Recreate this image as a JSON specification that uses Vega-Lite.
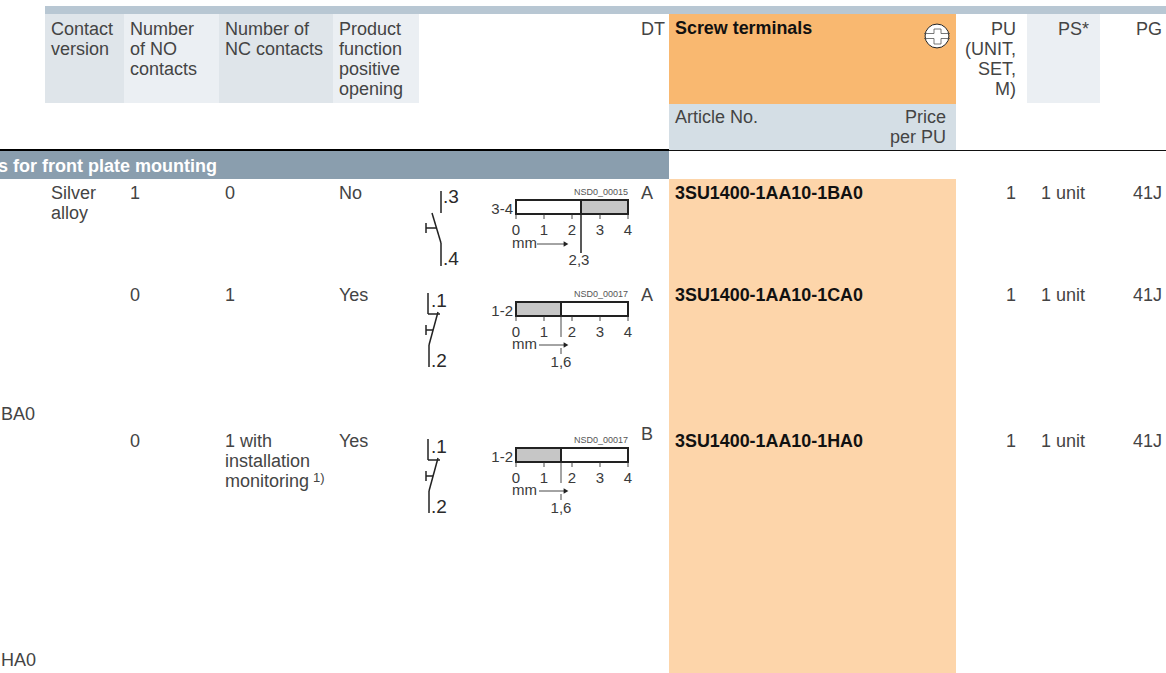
{"$schema":"https://vega.github.io/schema/vega-lite/v6.json","width":1166,"height":673,"padding":0,"autosize":{"type":"none"},"background":"#ffffff","config":{"view":{"stroke":null}},
"datasets":{
"rects":[
{"x":45,"x2":1166,"y":6,"y2":14,"kind":"band"},
{"x":45,"x2":124,"y":14,"y2":103,"kind":"colA"},
{"x":124,"x2":219,"y":14,"y2":103,"kind":"colB"},
{"x":219,"x2":333,"y":14,"y2":103,"kind":"colA"},
{"x":333,"x2":419,"y":14,"y2":103,"kind":"colB"},
{"x":669,"x2":956,"y":14,"y2":104,"kind":"orange"},
{"x":669,"x2":956,"y":104,"y2":150,"kind":"blue"},
{"x":1027,"x2":1100,"y":14,"y2":103,"kind":"colB"},
{"x":0,"x2":669,"y":151,"y2":179,"kind":"dark"},
{"x":669,"x2":956,"y":179,"y2":673,"kind":"pale"},
{"x":516,"x2":581,"y":200,"y2":214,"kind":"white"},
{"x":581,"x2":628,"y":200,"y2":214,"kind":"grey"},
{"x":516,"x2":561,"y":302,"y2":316,"kind":"grey"},
{"x":561,"x2":628,"y":302,"y2":316,"kind":"white"},
{"x":516,"x2":561,"y":448,"y2":462,"kind":"grey"},
{"x":561,"x2":628,"y":448,"y2":462,"kind":"white"}
],
"circle":[{"x":937,"y":36}],
"lines":[
{"x":0,"x2":669,"y":150,"y2":150,"kind":"heavy"},
{"x":669,"x2":1166,"y":150.5,"y2":150.5,"kind":"thin"},
{"x":924,"x2":934,"y":33.5,"y2":33.5,"kind":"icon"},
{"x":941,"x2":950,"y":33.5,"y2":33.5,"kind":"icon"},
{"x":924,"x2":934,"y":38.5,"y2":38.5,"kind":"icon"},
{"x":941,"x2":950,"y":38.5,"y2":38.5,"kind":"icon"},
{"x":934,"x2":934,"y":29,"y2":33.5,"kind":"icon"},
{"x":941,"x2":941,"y":29,"y2":33.5,"kind":"icon"},
{"x":934,"x2":941,"y":29,"y2":29,"kind":"icon"},
{"x":934,"x2":934,"y":38.5,"y2":44,"kind":"icon"},
{"x":941,"x2":941,"y":38.5,"y2":44,"kind":"icon"},
{"x":934,"x2":941,"y":44,"y2":44,"kind":"icon"},

{"x":441,"x2":441,"y":191,"y2":213,"kind":"sym"},
{"x":432,"x2":441,"y":213,"y2":243,"kind":"sym"},
{"x":441,"x2":441,"y":243,"y2":266,"kind":"sym"},
{"x":426,"x2":437,"y":228,"y2":228,"kind":"sym"},
{"x":426,"x2":426,"y":223,"y2":233,"kind":"sym"},

{"x":428,"x2":428,"y":293,"y2":314,"kind":"sym"},
{"x":428,"x2":440,"y":314,"y2":314,"kind":"sym"},
{"x":438,"x2":429,"y":312,"y2":345,"kind":"sym"},
{"x":429,"x2":429,"y":345,"y2":367,"kind":"sym"},
{"x":426,"x2":433,"y":330,"y2":330,"kind":"sym"},
{"x":426,"x2":426,"y":325,"y2":335,"kind":"sym"},

{"x":428,"x2":428,"y":439,"y2":460,"kind":"sym"},
{"x":428,"x2":440,"y":460,"y2":460,"kind":"sym"},
{"x":438,"x2":429,"y":458,"y2":491,"kind":"sym"},
{"x":429,"x2":429,"y":491,"y2":513,"kind":"sym"},
{"x":426,"x2":433,"y":476,"y2":476,"kind":"sym"},
{"x":426,"x2":426,"y":471,"y2":481,"kind":"sym"},

{"x":516,"x2":628,"y":200,"y2":200,"kind":"bar"},
{"x":516,"x2":628,"y":214,"y2":214,"kind":"bar"},
{"x":516,"x2":516,"y":199,"y2":215,"kind":"bar"},
{"x":628,"x2":628,"y":199,"y2":215,"kind":"bar"},
{"x":581,"x2":581,"y":199,"y2":214,"kind":"bar"},
{"x":581,"x2":581,"y":214,"y2":253,"kind":"sym"},
{"x":516,"x2":516,"y":214,"y2":219,"kind":"tick"},
{"x":544,"x2":544,"y":214,"y2":219,"kind":"tick"},
{"x":572,"x2":572,"y":214,"y2":219,"kind":"tick"},
{"x":600,"x2":600,"y":214,"y2":219,"kind":"tick"},
{"x":628,"x2":628,"y":214,"y2":219,"kind":"tick"},
{"x":537,"x2":566,"y":244,"y2":244,"kind":"tick"},

{"x":516,"x2":628,"y":302,"y2":302,"kind":"bar"},
{"x":516,"x2":628,"y":316,"y2":316,"kind":"bar"},
{"x":516,"x2":516,"y":301,"y2":317,"kind":"bar"},
{"x":628,"x2":628,"y":301,"y2":317,"kind":"bar"},
{"x":561,"x2":561,"y":301,"y2":316,"kind":"bar"},
{"x":561,"x2":561,"y":316,"y2":337,"kind":"tick"},
{"x":561,"x2":561,"y":348,"y2":354,"kind":"tick"},
{"x":516,"x2":516,"y":316,"y2":321,"kind":"tick"},
{"x":544,"x2":544,"y":316,"y2":321,"kind":"tick"},
{"x":572,"x2":572,"y":316,"y2":321,"kind":"tick"},
{"x":600,"x2":600,"y":316,"y2":321,"kind":"tick"},
{"x":628,"x2":628,"y":316,"y2":321,"kind":"tick"},
{"x":539,"x2":566,"y":345,"y2":345,"kind":"tick"},

{"x":516,"x2":628,"y":448,"y2":448,"kind":"bar"},
{"x":516,"x2":628,"y":462,"y2":462,"kind":"bar"},
{"x":516,"x2":516,"y":447,"y2":463,"kind":"bar"},
{"x":628,"x2":628,"y":447,"y2":463,"kind":"bar"},
{"x":561,"x2":561,"y":447,"y2":462,"kind":"bar"},
{"x":561,"x2":561,"y":462,"y2":483,"kind":"tick"},
{"x":561,"x2":561,"y":494,"y2":500,"kind":"tick"},
{"x":516,"x2":516,"y":462,"y2":467,"kind":"tick"},
{"x":544,"x2":544,"y":462,"y2":467,"kind":"tick"},
{"x":572,"x2":572,"y":462,"y2":467,"kind":"tick"},
{"x":600,"x2":600,"y":462,"y2":467,"kind":"tick"},
{"x":628,"x2":628,"y":462,"y2":467,"kind":"tick"},
{"x":539,"x2":566,"y":491,"y2":491,"kind":"tick"}
],
"heads":[{"x":566,"y":244},{"x":566,"y":345},{"x":566,"y":491}],
"bodyLeft":[
{"x":51,"y":35,"t":"Contact"},{"x":51,"y":55,"t":"version"},
{"x":130,"y":35,"t":"Number"},{"x":130,"y":55,"t":"of NO"},{"x":130,"y":75,"t":"contacts"},
{"x":225,"y":35,"t":"Number of"},{"x":225,"y":55,"t":"NC contacts"},
{"x":339,"y":35,"t":"Product"},{"x":339,"y":55,"t":"function"},{"x":339,"y":75,"t":"positive"},{"x":339,"y":95,"t":"opening"},
{"x":641,"y":35,"t":"DT"},
{"x":675,"y":123,"t":"Article No."},
{"x":51,"y":199,"t":"Silver"},{"x":51,"y":219,"t":"alloy"},
{"x":130,"y":199,"t":"1"},{"x":225,"y":199,"t":"0"},{"x":339,"y":199,"t":"No"},{"x":641,"y":199,"t":"A"},
{"x":130,"y":301,"t":"0"},{"x":225,"y":301,"t":"1"},{"x":339,"y":301,"t":"Yes"},{"x":641,"y":301,"t":"A"},
{"x":130,"y":447,"t":"0"},{"x":225,"y":447,"t":"1 with"},{"x":225,"y":467,"t":"installation"},{"x":225,"y":487,"t":"monitoring"},{"x":339,"y":447,"t":"Yes"},{"x":641,"y":440,"t":"B"},
{"x":1,"y":420,"t":"BA0"},{"x":1,"y":666,"t":"HA0"},
{"x":1041,"y":199,"t":"1 unit"},{"x":1041,"y":301,"t":"1 unit"},{"x":1041,"y":447,"t":"1 unit"}
],
"sup":[{"x":313,"y":482,"t":"1)"}],
"term":[
{"x":443,"y":203,"t":".3"},{"x":443,"y":265,"t":".4"},
{"x":431,"y":307,"t":".1"},{"x":431,"y":367,"t":".2"},
{"x":431,"y":453,"t":".1"},{"x":431,"y":513,"t":".2"}
],
"mm":[{"x":512,"y":248,"t":"mm"},{"x":512,"y":349,"t":"mm"},{"x":512,"y":495,"t":"mm"}],
"boldDark":[
{"x":675,"y":34,"t":"Screw terminals"},
{"x":675,"y":199,"t":"3SU1400-1AA10-1BA0"},
{"x":675,"y":301,"t":"3SU1400-1AA10-1CA0"},
{"x":675,"y":447,"t":"3SU1400-1AA10-1HA0"}
],
"boldLight":[{"x":-2,"y":172,"t":"s for front plate mounting"}],
"bodyRight":[
{"x":1016,"y":35,"t":"PU"},{"x":1016,"y":55,"t":"(UNIT,"},{"x":1016,"y":75,"t":"SET,"},{"x":1016,"y":95,"t":"M)"},
{"x":1089,"y":35,"t":"PS*"},{"x":1162,"y":35,"t":"PG"},
{"x":946,"y":123,"t":"Price"},{"x":946,"y":143,"t":"per PU"},
{"x":1016,"y":199,"t":"1"},{"x":1016,"y":301,"t":"1"},{"x":1016,"y":447,"t":"1"},
{"x":1162,"y":199,"t":"41J"},{"x":1162,"y":301,"t":"41J"},{"x":1162,"y":447,"t":"41J"}
],
"pos":[{"x":513,"y":214,"t":"3-4"},{"x":513,"y":316,"t":"1-2"},{"x":513,"y":462,"t":"1-2"}],
"tag":[{"x":628,"y":195,"t":"NSD0_00015"},{"x":628,"y":297,"t":"NSD0_00017"},{"x":628,"y":443,"t":"NSD0_00017"}],
"center":[
{"x":516,"y":235,"t":"0"},{"x":544,"y":235,"t":"1"},{"x":572,"y":235,"t":"2"},{"x":600,"y":235,"t":"3"},{"x":628,"y":235,"t":"4"},{"x":579,"y":265,"t":"2,3"},
{"x":516,"y":337,"t":"0"},{"x":544,"y":337,"t":"1"},{"x":572,"y":337,"t":"2"},{"x":600,"y":337,"t":"3"},{"x":628,"y":337,"t":"4"},{"x":561,"y":367,"t":"1,6"},
{"x":516,"y":483,"t":"0"},{"x":544,"y":483,"t":"1"},{"x":572,"y":483,"t":"2"},{"x":600,"y":483,"t":"3"},{"x":628,"y":483,"t":"4"},{"x":561,"y":513,"t":"1,6"}
]
},
"encoding":{
"x":{"field":"x","type":"quantitative","scale":{"domain":[0,1166],"range":[0,1166],"nice":false,"zero":false},"axis":null},
"y":{"field":"y","type":"quantitative","scale":{"domain":[0,673],"range":[0,673],"nice":false,"zero":false},"axis":null}
},
"layer":[
{"data":{"name":"rects"},"mark":{"type":"rect","clip":true},"encoding":{
"x2":{"field":"x2"},"y2":{"field":"y2"},
"fill":{"field":"kind","type":"nominal","legend":null,"scale":{"domain":["band","colA","colB","orange","blue","dark","pale","white","grey"],"range":["#b8c7d3","#dfe5ea","#ebeff3","#f9b870","#d4dee5","#8a9eae","#fdd5aa","#ffffff","#c6c6c6"]}}}},
{"data":{"name":"circle"},"mark":{"type":"point","shape":"circle","filled":true,"fill":"#ffffff","stroke":"#222222","strokeWidth":1,"size":570,"opacity":1}},
{"data":{"name":"lines"},"mark":{"type":"rule"},"encoding":{
"x2":{"field":"x2"},"y2":{"field":"y2"},
"stroke":{"field":"kind","type":"nominal","legend":null,"scale":{"domain":["heavy","thin","icon","sym","tick","bar"],"range":["#000000","#111111","#555555","#222222","#333333","#222222"]}},
"strokeWidth":{"field":"kind","type":"nominal","legend":null,"scale":{"type":"ordinal","domain":["heavy","thin","icon","sym","tick","bar"],"range":[2,1,0.8,1.5,0.9,2]}}}},
{"data":{"name":"heads"},"mark":{"type":"point","shape":"triangle-right","filled":true,"fill":"#222222","stroke":null,"size":30,"opacity":1}},
{"data":{"name":"bodyLeft"},"mark":{"type":"text","align":"left","baseline":"alphabetic","font":"Liberation Sans","fontSize":18,"fill":"#444444","clip":true},"encoding":{"text":{"field":"t"}}},
{"data":{"name":"sup"},"mark":{"type":"text","align":"left","baseline":"alphabetic","font":"Liberation Sans","fontSize":13,"fill":"#444444"},"encoding":{"text":{"field":"t"}}},
{"data":{"name":"term"},"mark":{"type":"text","align":"left","baseline":"alphabetic","font":"Liberation Sans","fontSize":19,"fill":"#2a2a2a"},"encoding":{"text":{"field":"t"}}},
{"data":{"name":"mm"},"mark":{"type":"text","align":"left","baseline":"alphabetic","font":"Liberation Sans","fontSize":15,"fill":"#3a3a3a"},"encoding":{"text":{"field":"t"}}},
{"data":{"name":"bodyRight"},"mark":{"type":"text","align":"right","baseline":"alphabetic","font":"Liberation Sans","fontSize":18,"fill":"#444444"},"encoding":{"text":{"field":"t"}}},
{"data":{"name":"pos"},"mark":{"type":"text","align":"right","baseline":"alphabetic","font":"Liberation Sans","fontSize":15,"fill":"#3a3a3a"},"encoding":{"text":{"field":"t"}}},
{"data":{"name":"tag"},"mark":{"type":"text","align":"right","baseline":"alphabetic","font":"Liberation Sans","fontSize":9,"fill":"#555555"},"encoding":{"text":{"field":"t"}}},
{"data":{"name":"center"},"mark":{"type":"text","align":"center","baseline":"alphabetic","font":"Liberation Sans","fontSize":15,"fill":"#3a3a3a"},"encoding":{"text":{"field":"t"}}},
{"data":{"name":"boldDark"},"mark":{"type":"text","align":"left","baseline":"alphabetic","font":"Liberation Sans","fontWeight":"bold","fontSize":17.9,"fill":"#111111"},"encoding":{"text":{"field":"t"}}},
{"data":{"name":"boldLight"},"mark":{"type":"text","align":"left","baseline":"alphabetic","font":"Liberation Sans","fontWeight":"bold","fontSize":18,"fill":"#ffffff","clip":true},"encoding":{"text":{"field":"t"}}}
]}
